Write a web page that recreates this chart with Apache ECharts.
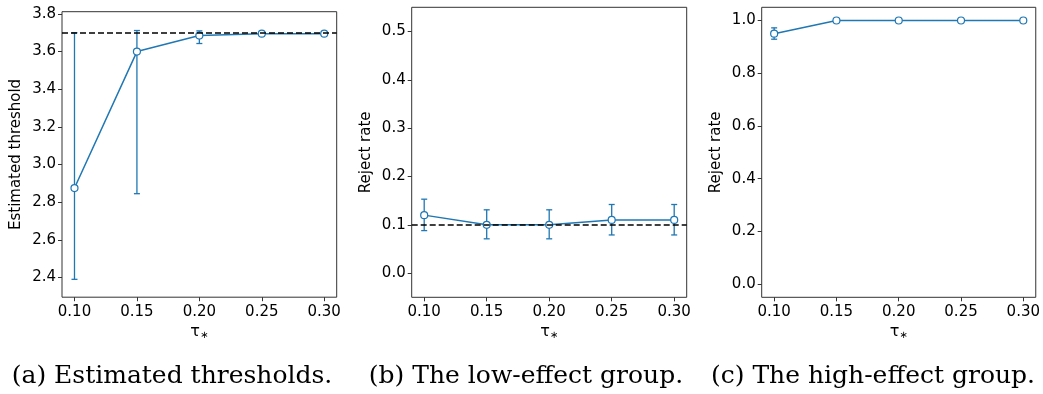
<!DOCTYPE html>
<html>
<head>
<meta charset="utf-8">
<script src="https://cdn.jsdelivr.net/npm/echarts@6/dist/echarts.min.js"></script>
<style>
  html, body { margin: 0; padding: 0; background: #fff; }
  #chart { width: 1043px; height: 394px; }
</style>
</head>
<body>
<div id="chart"></div>
<script>
// x values shared by all three panels
const tau = [0.10, 0.15, 0.20, 0.25, 0.30];
const tauTicks = [0.10, 0.15, 0.20, 0.25, 0.30];

// (a) estimated thresholds
const thrMean = [2.875, 3.60, 3.685, 3.695, 3.695];
const thrLow = [2.39, 2.845, 3.643, 3.69, 3.69];
const thrHigh = [3.70, 3.712, 3.71, 3.70, 3.70];
const thrTrue = 3.70;
const thrTicks = [2.4, 2.6, 2.8, 3.0, 3.2, 3.4, 3.6, 3.8];

// (b) low-effect group
const lowMean = [0.12, 0.10, 0.10, 0.11, 0.11];
const lowLow = [0.088, 0.071, 0.071, 0.079, 0.079];
const lowHigh = [0.153, 0.131, 0.131, 0.142, 0.142];
const alphaLevel = 0.1;
const lowTicks = [0.0, 0.1, 0.2, 0.3, 0.4, 0.5];

// (c) high-effect group
const highMean = [0.95, 1.0, 1.0, 1.0, 1.0];
const highLow = [0.929, 1.0, 1.0, 1.0, 1.0];
const highHigh = [0.972, 1.0, 1.0, 1.0, 1.0];
const highTicks = [0.0, 0.2, 0.4, 0.6, 0.8, 1.0];

const captions = ['(a) Estimated thresholds.', '(b) The low-effect group.', '(c) The high-effect group.'];

const blue = '#1f77b4';
const frame = '#333';
const sans = 'DejaVu Sans';

const chart = echarts.init(document.getElementById('chart'));

const grids = [
    { left: 62, top: 11.7, width: 274.7, height: 285.5 },
    { left: 411.7, top: 7.3, width: 275, height: 290 },
    { left: 761.7, top: 7.3, width: 275, height: 290 }
];

const panels = [
    { mean: thrMean, low: thrLow, high: thrHigh, ref: thrTrue, ymin: 2.295, ymax: 3.812, ticks: thrTicks, name: 'Estimated threshold' },
    { mean: lowMean, low: lowLow, high: lowHigh, ref: alphaLevel, ymin: -0.05, ymax: 0.55, ticks: lowTicks, name: 'Reject rate' },
    { mean: highMean, low: highLow, high: highHigh, ref: null, ymin: -0.05, ymax: 1.05, ticks: highTicks, name: 'Reject rate' }
];

const xAxes = [];
const yAxes = [];
const series = [];

panels.forEach((p, i) => {
    xAxes.push({
        type: 'value',
        gridIndex: i,
        min: 0.09,
        max: 0.31,
        name: '{t|τ}{s|∗}',
        nameLocation: 'middle',
        nameGap: 27,
        nameTextStyle: {
            rich: {
                t: { fontFamily: sans, fontSize: 16, color: '#000' },
                s: { fontFamily: sans, fontSize: 10, color: '#000', padding: [6, 0, 0, 0] }
            }
        },
        axisLine: { show: false, onZero: false },
        axisTick: { show: true, length: 4, customValues: tauTicks, lineStyle: { color: frame } },
        axisLabel: {
            customValues: tauTicks,
            margin: 7,
            fontFamily: sans,
            fontSize: 15,
            color: '#000',
            formatter: (v) => v.toFixed(2)
        },
        splitLine: { show: false }
    });
    yAxes.push({
        type: 'value',
        gridIndex: i,
        min: p.ymin,
        max: p.ymax,
        name: p.name,
        nameLocation: 'middle',
        nameGap: 38,
        nameTextStyle: { fontFamily: sans, fontSize: 15, color: '#000' },
        axisLine: { show: false, onZero: false },
        axisTick: { show: true, length: 4, customValues: p.ticks, lineStyle: { color: frame } },
        axisLabel: {
            customValues: p.ticks,
            margin: 6,
            fontFamily: sans,
            fontSize: 15,
            color: '#000',
            formatter: (v) => v.toFixed(1)
        },
        splitLine: { show: false }
    });

    // dashed reference line
    if (p.ref !== null) {
        series.push({
            type: 'line',
            xAxisIndex: i,
            yAxisIndex: i,
            data: [],
            z: 1,
            silent: true,
            markLine: {
                symbol: 'none',
                silent: true,
                label: { show: false },
                lineStyle: { color: '#000', type: [6, 3], width: 1.5 },
                data: [{ yAxis: p.ref }]
            }
        });
    }

    // error bars
    series.push({
        type: 'custom',
        xAxisIndex: i,
        yAxisIndex: i,
        z: 2,
        data: tau.map((t, k) => [t, p.low[k], p.high[k]]),
        encode: { x: 0, y: [1, 2] },
        renderItem: function(params, api) {
            let top = api.coord([api.value(0), api.value(2)]);
            let bot = api.coord([api.value(0), api.value(1)]);
            let w = 3;
            let st = { stroke: blue, lineWidth: 1.3 };
            return {
                type: 'group',
                children: [
                    { type: 'line', shape: { x1: top[0], y1: top[1], x2: bot[0], y2: bot[1] }, style: st },
                    { type: 'line', shape: { x1: top[0] - w, y1: top[1], x2: top[0] + w, y2: top[1] }, style: st },
                    { type: 'line', shape: { x1: bot[0] - w, y1: bot[1], x2: bot[0] + w, y2: bot[1] }, style: st }
                ]
            };
        }
    });

    // mean line with open markers
    series.push({
        type: 'line',
        xAxisIndex: i,
        yAxisIndex: i,
        z: 3,
        data: tau.map((t, k) => [t, p.mean[k]]),
        symbol: 'circle',
        symbolSize: 7,
        showAllSymbol: true,
        lineStyle: { color: blue, width: 1.5 },
        itemStyle: { color: '#fff', borderColor: blue, borderWidth: 1.2 },
        animation: false
    });
});

const captionX = [172, 526, 873];

chart.setOption({
    animation: false,
    grid: grids.map((g) => Object.assign({ show: true, borderColor: frame, borderWidth: 1, backgroundColor: 'transparent' }, g)),
    xAxis: xAxes,
    yAxis: yAxes,
    series: series,
    graphic: captions.map((c, i) => ({
        type: 'text',
        x: captionX[i],
        y: 376,
        style: {
            text: c,
            fontFamily: 'DejaVu Serif',
            fontSize: 25,
            fill: '#000',
            align: 'center',
            verticalAlign: 'middle'
        }
    }))
});
</script>
</body>
</html>
